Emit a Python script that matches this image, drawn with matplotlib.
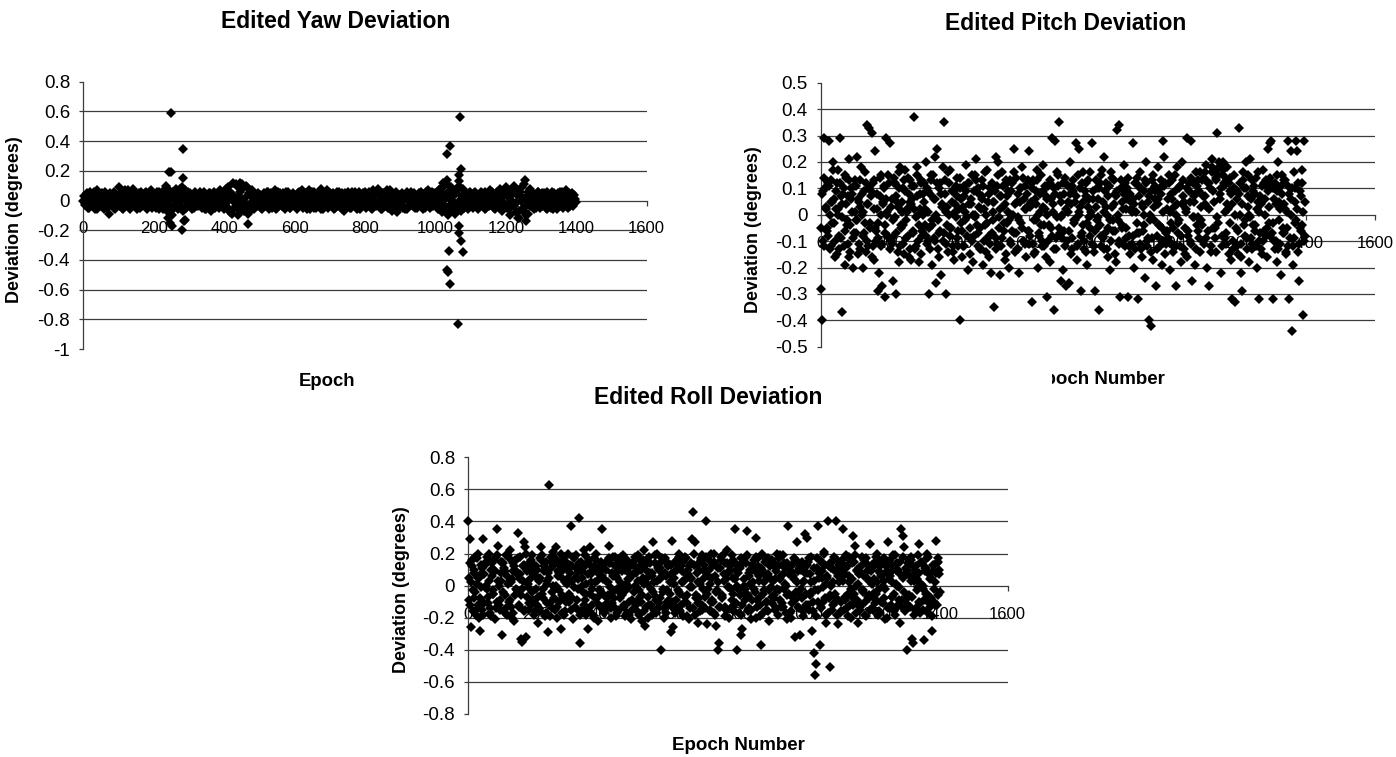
import matplotlib
matplotlib.use("Agg")
import matplotlib.pyplot as plt
from matplotlib.patches import Rectangle

plt.rcParams['font.family'] = ['Liberation Sans', 'DejaVu Sans']

W, H = 1396, 757

# epoch numbers of the points (every 4th epoch, plus two in-between sets)
epochs = list(range(0, 1400, 4))
epochs_mid = list(range(2, 1400, 4))
epochs_b = list(range(1, 1400, 4))

yaw_dev = [
    0.00, -0.03, 0.04, 0.01, -0.05, 0.06, -0.01, 0.03, -0.06, 0.02, 0.07, -0.04, 0.00, 0.05, -0.02, -0.06, 0.03, 0.01, -0.09, 0.05, -0.03, 0.02, -0.05, 0.04, -0.01,
    0.09, -0.04, 0.01, -0.06, 0.05, -0.02, 0.03, 0.07, -0.05, 0.00, 0.08, -0.03, 0.02, -0.06, 0.04, -0.01, 0.06, -0.04, 0.01, 0.05, -0.06, 0.03, -0.02, 0.07, -0.05,
    0.02, -0.04, 0.06, 0.00, -0.06, 0.04, -0.02, 0.07, -0.05, 0.03, -0.08, 0.05, 0.01, -0.10, 0.06, -0.03, 0.08, -0.06, 0.02, -0.04, 0.09, -0.07, 0.03, -0.05, 0.06,
    -0.02, 0.04, -0.06, 0.01, 0.05, -0.04, 0.02, -0.01, 0.06, -0.05, 0.03, 0.00, -0.06, 0.04, -0.02, 0.05, -0.07, 0.02, 0.06, -0.03, 0.01, -0.05, 0.07, -0.02, 0.04,
    -0.06, 0.05, -0.01, 0.09, -0.08, 0.03, 0.12, -0.05, 0.00, 0.10, -0.10, 0.06, -0.03, 0.11, -0.07, 0.02, 0.09, -0.09, 0.04, -0.02, 0.07, -0.06, 0.01, -0.04, 0.05,
    -0.03, 0.02, -0.06, 0.05, 0.00, -0.04, 0.06, -0.02, 0.03, -0.05, 0.01, 0.07, -0.06, 0.04, -0.01, 0.05, -0.04, 0.02, -0.06, 0.06, -0.02, 0.03, -0.05, 0.00, 0.05,
    -0.04, 0.03, -0.06, 0.06, -0.01, 0.04, -0.05, 0.01, 0.05, -0.03, 0.07, -0.06, 0.02, -0.02, 0.06, -0.05, 0.00, 0.04, -0.04, 0.08, -0.06, 0.03, -0.01, 0.07, -0.05,
    0.02, -0.03, 0.05, -0.06, 0.01, 0.06, -0.04, 0.03, -0.01, 0.05, -0.07, 0.02, -0.03, 0.06, 0.00, -0.05, 0.04, -0.02, 0.06, -0.06, 0.01, 0.05, -0.04, 0.03, -0.01,
    0.06, -0.05, 0.02, -0.02, 0.05, -0.06, 0.07, 0.00, -0.04, 0.08, -0.03, 0.03, -0.06, 0.05, -0.01, 0.04, -0.05, 0.02, 0.07, -0.07, 0.01, -0.03, 0.06, -0.08, 0.04,
    -0.02, 0.05, -0.05, 0.01, 0.04, -0.06, 0.02, -0.01, 0.06, -0.04, 0.03, 0.00, -0.05, 0.05, -0.02, 0.04, -0.06, 0.02, 0.06, -0.03, 0.07, -0.05, 0.01, -0.04, 0.05,
    -0.03, 0.06, -0.06, 0.08, 0.01, -0.08, 0.10, -0.04, 0.05, -0.10, 0.02, 0.09, -0.06, 0.04, -0.09, 0.07, -0.02, 0.10, -0.07, 0.03, -0.05, 0.06, -0.01, -0.06, 0.05,
    -0.02, 0.04, -0.05, 0.06, 0.00, -0.06, 0.03, -0.03, 0.05, -0.01, 0.06, -0.05, 0.02, -0.04, 0.07, -0.02, 0.04, -0.06, 0.01, 0.06, -0.04, 0.08, -0.07, 0.03, -0.02,
    0.09, -0.05, 0.02, -0.10, 0.07, -0.02, 0.10, -0.08, 0.04, -0.12, 0.06, 0.00, -0.07, 0.11, -0.04, 0.03, -0.09, 0.08, -0.01, 0.05, -0.06, 0.02, -0.03, 0.06, -0.05,
    0.03, -0.04, 0.05, -0.01, -0.06, 0.04, 0.01, -0.05, 0.06, -0.02, 0.03, -0.06, 0.05, 0.00, -0.04, 0.06, -0.03, 0.02, 0.07, -0.05, 0.04, -0.02, 0.05, -0.04, 0.01,
]
yaw_dev_mid = [
    0.03, -0.02, 0.05, -0.05, 0.01, 0.04, -0.03, 0.06, 0.00, -0.06, 0.02, 0.05, -0.04, 0.03, -0.01, 0.06, -0.05, 0.02, 0.04, -0.03, 0.00, 0.06, -0.06, 0.01, 0.03,
    -0.02, 0.05, -0.05, 0.02, 0.07, -0.03, 0.00, 0.04, -0.06, 0.03, -0.01, 0.06, -0.04, 0.01, 0.05, -0.05, 0.02, 0.03, -0.02, 0.06, 0.00, -0.04, 0.05, -0.01, 0.02,
    0.04, -0.05, 0.01, 0.06, -0.03, 0.02, -0.06, 0.05, 0.00, -0.02, 0.07, -0.04, 0.03, -0.06, 0.01, 0.05, -0.03, 0.04, -0.01, 0.06, -0.05, 0.02, 0.07, -0.03, 0.00,
    0.05, -0.03, 0.02, -0.05, 0.06, 0.00, -0.04, 0.04, -0.02, 0.01, 0.06, -0.06, 0.03, -0.01, 0.05, -0.04, 0.02, 0.00, -0.05, 0.04, -0.02, 0.06, -0.03, 0.01, 0.05,
    -0.03, 0.08, -0.05, 0.02, 0.06, -0.09, 0.04, -0.02, 0.11, -0.06, 0.03, -0.08, 0.08, 0.00, -0.05, 0.10, -0.03, 0.05, -0.07, 0.03, 0.00, 0.05, -0.04, 0.02, -0.02,
    0.04, -0.05, 0.01, 0.03, -0.02, 0.06, -0.06, 0.02, 0.05, -0.03, 0.00, 0.04, -0.05, 0.06, -0.02, 0.01, 0.05, -0.04, 0.03, -0.01, 0.06, -0.05, 0.02, 0.04, -0.03,
    0.01, -0.05, 0.05, -0.02, 0.03, 0.07, -0.04, 0.00, -0.06, 0.04, 0.02, -0.03, 0.06, -0.05, 0.01, 0.03, -0.02, 0.06, -0.06, 0.02, 0.05, -0.04, 0.04, 0.00, -0.03,
    0.05, -0.01, 0.03, -0.05, 0.04, -0.02, 0.06, 0.00, -0.06, 0.02, 0.05, -0.04, 0.01, 0.04, -0.05, 0.06, -0.02, 0.03, -0.04, 0.00, 0.06, -0.06, 0.02, 0.05, -0.03,
    0.02, -0.04, 0.06, 0.01, -0.05, 0.03, -0.03, 0.05, 0.06, -0.02, 0.00, -0.06, 0.04, 0.02, -0.04, 0.07, -0.01, 0.03, -0.05, 0.05, -0.03, 0.01, 0.04, -0.06, 0.02,
    0.04, -0.03, 0.02, -0.06, 0.06, 0.00, -0.04, 0.03, -0.02, 0.05, -0.05, 0.01, 0.04, -0.03, 0.06, -0.01, 0.02, -0.05, 0.03, 0.05, -0.04, 0.00, 0.06, -0.02, 0.01,
    0.03, -0.04, 0.07, -0.02, 0.05, 0.12, -0.05, 0.02, -0.07, 0.06, -0.03, 0.08, 0.00, -0.08, 0.05, -0.04, 0.13, -0.05, 0.01, 0.08, -0.03, 0.04, 0.02, -0.04, 0.06,
    -0.04, 0.02, 0.05, -0.03, 0.04, -0.05, 0.01, 0.06, -0.02, 0.03, -0.06, 0.00, 0.05, -0.03, 0.02, 0.06, -0.05, 0.03, -0.02, 0.04, 0.01, -0.05, 0.05, -0.03, 0.07,
    -0.03, 0.06, -0.06, 0.04, 0.00, -0.04, 0.08, -0.02, 0.05, -0.07, 0.03, 0.09, -0.05, 0.01, -0.10, 0.06, 0.00, -0.04, 0.05, -0.02, 0.03, -0.05, 0.06, 0.00, -0.03,
    0.05, -0.02, 0.02, -0.05, 0.06, 0.00, -0.03, 0.04, -0.06, 0.05, -0.01, 0.03, -0.04, 0.06, 0.02, -0.05, 0.04, -0.02, 0.01, 0.05, -0.04, 0.03, -0.02, 0.04, -0.01,
]
# isolated yaw outliers
yaw_spike_epochs = [236, 240, 244, 246, 248, 250, 252, 276, 280, 282, 284, 286, 290, 446, 468,
                    1030, 1032, 1033, 1034, 1036, 1038, 1040, 1042, 1064, 1066, 1067, 1068, 1070, 1072, 1074, 1077,
                    1235, 1254, 1256]
yaw_spike_values = [0.10, -0.12, 0.19, -0.15, 0.59, 0.19, -0.17, 0.08, -0.20, 0.35, 0.15, -0.14, -0.13, 0.12, -0.16,
                    0.12, 0.31, -0.47, 0.14, -0.48, -0.34, 0.37, -0.56, -0.83, -0.17, 0.17, -0.22, 0.56, 0.21, -0.27, -0.35,
                    -0.12, 0.14, -0.14]

pitch_dev = [
    -0.28, -0.40, 0.29, 0.10, -0.05, 0.12, 0.28, -0.12, 0.05, 0.20, -0.16, 0.02, 0.17, -0.08, 0.29, -0.37, 0.08, -0.19, 0.14, -0.02, 0.21, -0.14, 0.06, -0.20, 0.11,
    -0.07, 0.22, -0.15, 0.03, 0.18, -0.20, 0.09, -0.03, 0.34, -0.12, 0.33, 0.07, 0.31, -0.17, 0.24, -0.06, -0.29, -0.22, 0.15, -0.27, 0.04, -0.31, 0.29, 0.01, -0.09,
    0.27, -0.11, -0.25, 0.14, -0.30, 0.05, -0.18, 0.18, -0.04, 0.10, -0.15, 0.17, 0.02, -0.08, 0.13, -0.17, 0.06, 0.37, -0.13, 0.18, 0.00, -0.18, 0.12, -0.06, 0.08,
    -0.04, 0.20, -0.10, -0.30, 0.08, -0.19, 0.15, 0.22, -0.26, 0.25, -0.07, 0.12, -0.23, 0.18, 0.35, -0.30, 0.03, -0.14, 0.17, -0.05, 0.09, -0.17, 0.01, 0.14, -0.12,
    -0.40, 0.06, -0.16, 0.11, -0.02, 0.19, -0.21, 0.04, -0.09, 0.15, -0.18, 0.00, 0.21, -0.12, 0.08, -0.05, 0.13, -0.19, 0.02, -0.14, 0.17, -0.08, 0.10, -0.22, 0.05,
    -0.35, 0.22, -0.11, 0.20, -0.23, 0.07, 0.16, -0.03, -0.17, 0.12, 0.01, -0.20, 0.09, -0.06, 0.25, -0.14, 0.14, -0.01, -0.22, 0.05, 0.18, -0.10, 0.11, -0.16, 0.03,
    0.24, -0.08, -0.33, 0.13, -0.15, 0.04, 0.17, -0.20, 0.08, -0.04, 0.19, -0.12, 0.02, -0.31, 0.11, -0.18, 0.06, 0.29, -0.36, 0.28, -0.09, 0.15, 0.35, -0.25, 0.00,
    -0.21, 0.12, -0.27, 0.05, -0.26, 0.20, -0.13, 0.09, -0.02, 0.27, -0.17, 0.25, 0.03, -0.29, 0.16, -0.10, 0.07, -0.19, 0.13, -0.05, 0.01, 0.27, -0.14, -0.29, 0.10,
    0.06, -0.36, -0.12, 0.17, 0.22, -0.07, 0.03, -0.16, 0.11, -0.21, 0.14, -0.02, 0.08, -0.18, 0.32, 0.34, -0.31, 0.05, -0.11, 0.19, -0.05, 0.10, -0.31, -0.15, 0.02,
    0.27, -0.20, 0.12, -0.07, -0.32, 0.16, -0.13, 0.04, 0.09, -0.24, 0.20, -0.09, -0.40, -0.42, 0.13, -0.17, 0.06, -0.27, 0.18, -0.04, 0.10, -0.19, 0.28, 0.22, -0.11,
    -0.06, 0.15, -0.21, 0.08, -0.12, 0.03, -0.27, 0.18, -0.03, 0.11, -0.18, 0.20, 0.05, -0.15, 0.29, -0.08, 0.12, 0.28, -0.25, 0.07, -0.19, 0.16, -0.01, 0.09, -0.14,
    0.13, -0.10, 0.04, 0.19, -0.20, -0.27, 0.10, 0.21, -0.05, 0.17, -0.14, 0.31, 0.15, 0.08, -0.22, 0.20, 0.12, -0.09, 0.18, 0.02, 0.14, -0.17, -0.32, 0.10, -0.33,
    0.06, -0.15, 0.33, -0.22, -0.29, 0.16, -0.08, 0.20, 0.03, -0.18, 0.21, -0.11, 0.09, -0.04, 0.14, -0.20, -0.32, 0.07, -0.13, 0.17, -0.06, 0.11, -0.16, 0.25, 0.27,
    0.28, -0.32, -0.10, 0.12, -0.18, 0.20, 0.05, -0.23, 0.15, -0.07, 0.02, -0.14, 0.28, -0.32, 0.24, -0.44, -0.19, 0.10, 0.28, 0.24, -0.25, -0.05, 0.17, -0.38, 0.28,
]
pitch_dev_mid = [
    0.08, -0.10, 0.14, 0.02, -0.06, 0.11, -0.13, 0.05, 0.17, -0.03, 0.09, -0.15, 0.00, 0.12, -0.09, 0.04, -0.12, 0.15, -0.04, 0.07, -0.16, 0.10, 0.01, -0.07, 0.13,
    -0.02, 0.06, -0.11, 0.13, 0.00, -0.08, 0.16, -0.14, 0.04, 0.10, -0.05, -0.16, 0.12, 0.02, -0.10, 0.08, -0.03, 0.14, -0.12, 0.05, 0.11, -0.07, 0.00, 0.15, -0.13,
    0.03, -0.09, 0.12, -0.01, 0.07, -0.14, 0.16, -0.05, 0.01, -0.11, 0.09, -0.02, 0.14, -0.16, 0.05, 0.11, -0.07, 0.02, -0.12, 0.15, -0.04, 0.08, -0.15, 0.00, 0.12,
    -0.08, 0.10, 0.01, -0.13, 0.15, -0.04, 0.06, -0.10, 0.12, -0.02, -0.16, 0.08, 0.03, -0.07, 0.13, -0.11, 0.16, 0.00, -0.05, 0.09, -0.14, 0.04, 0.11, -0.09, 0.02,
    0.14, -0.06, 0.03, -0.12, 0.09, -0.01, 0.12, -0.15, 0.06, 0.00, -0.08, 0.15, -0.04, 0.10, -0.13, 0.02, 0.07, -0.10, 0.16, -0.03, 0.05, -0.16, 0.11, -0.07, 0.01,
    0.09, -0.13, 0.15, -0.05, 0.02, -0.09, 0.11, 0.04, -0.15, 0.07, -0.02, 0.13, -0.11, 0.00, 0.16, -0.07, 0.05, -0.13, 0.10, -0.03, 0.14, -0.10, 0.02, 0.08, -0.06,
    -0.11, 0.05, 0.12, -0.02, -0.14, 0.09, 0.00, -0.07, 0.15, -0.10, 0.03, 0.11, -0.16, 0.06, -0.04, 0.13, -0.08, 0.01, 0.10, -0.13, 0.16, -0.05, 0.07, -0.01, 0.12,
    -0.06, 0.14, -0.10, 0.01, 0.08, -0.15, 0.11, -0.03, 0.05, -0.12, 0.15, 0.00, -0.08, 0.12, -0.04, 0.09, -0.14, 0.03, -0.01, 0.16, -0.11, 0.06, -0.06, 0.13, -0.02,
    0.10, -0.04, 0.15, -0.09, 0.01, 0.12, -0.13, 0.07, -0.02, 0.16, -0.06, 0.04, -0.15, 0.09, 0.00, -0.10, 0.13, -0.05, 0.08, -0.12, 0.02, 0.14, -0.08, 0.05, -0.11,
    0.06, -0.13, 0.01, 0.14, -0.07, 0.10, -0.16, 0.03, -0.04, 0.12, -0.10, 0.07, 0.00, -0.14, 0.15, -0.02, 0.09, -0.08, 0.04, -0.12, 0.13, -0.05, 0.11, -0.15, 0.02,
    -0.09, 0.12, -0.03, 0.06, -0.14, 0.15, 0.00, -0.07, 0.10, -0.12, 0.04, 0.13, -0.05, 0.01, -0.16, 0.09, -0.10, 0.14, -0.01, 0.05, -0.13, 0.11, -0.06, 0.16, -0.02,
    0.07, -0.11, 0.16, 0.03, -0.06, 0.12, -0.14, 0.18, 0.05, -0.09, 0.14, -0.03, 0.20, 0.10, -0.12, 0.17, 0.01, -0.07, 0.13, -0.15, 0.09, 0.04, -0.10, 0.15, -0.05,
    -0.12, 0.08, 0.00, -0.16, 0.13, -0.04, 0.10, -0.09, 0.15, -0.01, 0.06, -0.13, 0.11, -0.06, 0.02, 0.16, -0.10, 0.04, -0.15, 0.12, 0.00, -0.08, 0.09, -0.03, 0.14,
    -0.07, 0.10, -0.13, 0.04, 0.15, -0.02, -0.11, 0.08, -0.05, 0.13, -0.15, 0.01, 0.11, -0.09, 0.06, -0.12, 0.16, -0.03, 0.02, -0.14, 0.09, -0.06, 0.12, -0.10, 0.05,
]
pitch_dev_b = [
    -0.05, 0.09, -0.12, 0.03, 0.11, -0.08, 0.00, 0.13, -0.03, 0.06, -0.10, 0.12, 0.02, -0.13, 0.07, -0.01, 0.10, -0.06, 0.04, -0.11, 0.13, -0.04, 0.08, -0.09, 0.01,
    0.11, -0.02, 0.05, -0.13, 0.08, 0.01, -0.07, 0.12, -0.10, 0.04, -0.03, 0.09, -0.12, 0.13, -0.05, 0.02, -0.09, 0.07, 0.00, -0.11, 0.10, -0.04, 0.06, -0.08, 0.12,
    -0.10, 0.06, -0.02, 0.12, -0.07, 0.03, 0.10, -0.12, 0.05, -0.04, 0.13, -0.09, 0.01, 0.08, -0.13, 0.04, -0.06, 0.11, -0.01, 0.07, -0.10, 0.02, 0.13, -0.08, 0.05,
    0.02, -0.11, 0.09, -0.05, 0.13, -0.02, -0.09, 0.06, 0.00, -0.13, 0.10, -0.06, 0.04, -0.10, 0.08, 0.01, -0.04, 0.12, -0.08, 0.05, -0.12, 0.09, -0.01, 0.07, -0.06,
    0.10, -0.03, -0.12, 0.07, 0.01, -0.08, 0.12, -0.05, 0.04, -0.10, 0.09, -0.01, 0.13, -0.07, 0.03, -0.13, 0.06, 0.11, -0.04, 0.00, -0.09, 0.08, -0.11, 0.12, -0.02,
    0.05, -0.09, 0.11, -0.01, 0.07, -0.12, 0.03, -0.06, 0.13, -0.03, 0.09, -0.10, 0.00, 0.12, -0.07, 0.04, -0.13, 0.08, -0.02, 0.10, -0.05, 0.06, -0.11, 0.02, 0.13,
    -0.06, 0.03, 0.10, -0.11, 0.06, -0.02, 0.13, -0.08, 0.01, -0.12, 0.09, -0.04, 0.07, 0.00, -0.10, 0.12, -0.05, 0.04, -0.13, 0.08, -0.01, 0.11, -0.07, 0.05, -0.09,
    0.08, -0.12, 0.02, 0.11, -0.06, 0.04, -0.09, 0.13, -0.02, 0.07, -0.11, 0.01, 0.10, -0.07, 0.05, -0.13, 0.12, -0.03, 0.06, -0.08, 0.00, 0.09, -0.12, 0.03, -0.05,
    -0.01, 0.12, -0.08, 0.05, -0.13, 0.09, 0.00, -0.05, 0.11, -0.10, 0.03, 0.13, -0.06, 0.07, -0.02, -0.11, 0.10, -0.04, 0.02, 0.12, -0.09, 0.06, -0.12, 0.08, 0.01,
    -0.08, 0.04, 0.12, -0.03, 0.07, -0.11, 0.10, -0.06, 0.00, 0.13, -0.12, 0.05, -0.02, 0.09, -0.09, 0.03, 0.11, -0.13, 0.06, -0.04, 0.08, -0.10, 0.01, 0.12, -0.07,
    0.06, -0.10, 0.01, 0.13, -0.05, 0.09, -0.12, 0.04, -0.02, 0.11, -0.08, 0.07, -0.13, 0.02, 0.10, -0.06, 0.05, -0.11, 0.12, -0.01, 0.08, -0.04, 0.13, -0.09, 0.03,
    -0.04, 0.14, 0.07, -0.09, 0.12, 0.02, -0.12, 0.16, 0.09, -0.05, 0.13, -0.01, 0.18, 0.06, -0.08, 0.15, 0.11, -0.11, 0.04, 0.12, -0.03, 0.08, -0.13, 0.10, 0.00,
    0.09, -0.06, 0.12, -0.11, 0.04, 0.10, -0.02, -0.13, 0.07, 0.00, -0.09, 0.13, -0.04, 0.08, -0.12, 0.05, 0.01, -0.07, 0.11, -0.10, 0.06, 0.13, -0.05, 0.03, -0.08,
    0.12, -0.03, 0.06, -0.10, 0.09, -0.13, 0.02, 0.11, -0.07, 0.04, 0.13, -0.05, -0.12, 0.08, 0.00, 0.10, -0.09, 0.05, -0.02, 0.12, -0.11, 0.07, -0.04, 0.01, -0.08,
]

roll_dev = [
    0.40, 0.29, -0.26, 0.12, -0.08, 0.18, -0.15, 0.05, -0.20, -0.28, 0.08, 0.29, -0.11, 0.15, -0.02, 0.20, -0.17, 0.10, -0.05, 0.16, -0.21, 0.35, 0.25, -0.12, 0.03,
    -0.31, 0.14, -0.06, 0.19, -0.18, 0.02, 0.22, -0.13, 0.09, -0.22, 0.16, -0.03, 0.33, 0.07, -0.33, -0.35, 0.27, 0.24, -0.32, 0.11, -0.15, 0.04, 0.19, -0.09, 0.13,
    0.06, -0.12, -0.23, 0.17, 0.24, -0.05, 0.10, -0.19, 0.01, -0.29, 0.63, 0.15, -0.14, 0.21, -0.02, 0.24, -0.20, 0.08, 0.13, -0.27, -0.07, 0.18, -0.16, 0.04, 0.20,
    -0.10, 0.37, 0.12, -0.21, 0.05, 0.19, -0.15, 0.42, -0.36, 0.09, -0.04, 0.22, -0.18, 0.14, -0.27, 0.24, 0.02, -0.12, 0.17, -0.08, 0.20, -0.22, 0.07, -0.03, 0.35,
    0.11, -0.17, 0.03, -0.08, 0.25, 0.14, -0.20, 0.06, -0.13, 0.18, -0.02, 0.09, -0.15, 0.18, -0.06, 0.12, -0.19, 0.01, 0.16, -0.10, 0.05, -0.21, 0.13, -0.04, 0.08,
    -0.16, 0.19, -0.07, 0.10, -0.22, 0.22, -0.25, 0.04, 0.15, -0.12, 0.08, -0.18, 0.27, 0.02, -0.09, 0.20, -0.14, 0.11, -0.40, 0.06, -0.20, 0.17, -0.03, 0.13, -0.11,
    -0.29, 0.28, -0.26, 0.09, -0.14, 0.16, 0.20, -0.05, 0.12, -0.19, 0.03, 0.18, -0.11, 0.07, -0.21, 0.14, 0.29, 0.46, 0.27, -0.08, -0.23, 0.10, -0.16, 0.19, -0.02,
    0.13, 0.40, -0.24, 0.06, -0.15, 0.20, -0.09, 0.15, -0.18, -0.25, -0.40, -0.36, 0.11, -0.06, 0.19, -0.13, 0.04, 0.22, -0.20, 0.09, -0.02, 0.16, -0.12, 0.35, -0.40,
    0.08, -0.17, -0.31, -0.27, 0.14, -0.05, 0.18, 0.34, -0.14, 0.10, -0.21, 0.02, 0.16, 0.30, -0.09, 0.12, -0.19, -0.37, 0.20, -0.03, 0.07, -0.15, 0.17, -0.22, 0.05,
    -0.11, 0.15, -0.06, 0.09, 0.20, -0.18, 0.04, -0.13, 0.19, -0.02, 0.11, -0.21, 0.37, 0.07, -0.16, 0.13, -0.08, -0.32, 0.16, 0.27, -0.05, -0.31, 0.10, -0.19, 0.03,
    0.32, 0.30, -0.12, 0.17, -0.04, -0.28, -0.42, -0.56, -0.49, 0.37, 0.08, -0.37, 0.14, -0.10, 0.21, -0.23, 0.05, 0.40, -0.51, 0.11, -0.15, 0.18, -0.07, 0.40, -0.24,
    0.13, -0.17, 0.06, 0.35, -0.09, 0.19, -0.14, 0.02, 0.16, -0.20, 0.31, -0.05, 0.25, 0.10, -0.23, 0.07, -0.12, 0.18, -0.03, 0.14, -0.19, 0.09, -0.08, 0.26, 0.01,
    -0.15, 0.12, -0.05, 0.20, -0.18, 0.08, -0.10, 0.16, 0.03, -0.21, 0.13, 0.27, -0.13, 0.06, -0.07, 0.19, -0.16, 0.10, 0.00, -0.12, -0.23, 0.35, 0.31, 0.24, -0.09,
    -0.40, 0.14, -0.06, 0.18, -0.33, -0.36, 0.09, -0.14, 0.04, 0.26, -0.11, 0.15, -0.02, -0.34, 0.11, 0.20, -0.17, 0.07, -0.08, -0.28, 0.13, -0.12, 0.28, 0.17, 0.10,
]
roll_dev_mid = [
    0.05, -0.12, 0.16, -0.03, 0.10, -0.18, 0.01, 0.20, -0.08, 0.13, -0.15, 0.07, -0.01, 0.18, -0.11, 0.03, -0.19, 0.14, -0.05, 0.09, -0.14, 0.19, 0.00, -0.09, 0.15,
    -0.04, 0.11, -0.17, 0.06, 0.19, -0.10, 0.02, -0.20, 0.14, -0.06, 0.09, 0.17, -0.13, 0.04, -0.02, 0.12, -0.16, 0.20, -0.07, 0.01, 0.15, -0.12, 0.08, -0.18, 0.06,
    0.12, -0.07, 0.03, -0.16, 0.19, -0.02, 0.09, 0.15, -0.11, 0.05, -0.19, 0.11, 0.00, -0.08, 0.17, -0.13, 0.06, -0.03, 0.20, -0.17, 0.10, 0.02, -0.10, 0.14, -0.05,
    0.08, -0.15, 0.18, -0.01, 0.11, -0.09, 0.04, -0.18, 0.15, 0.00, -0.12, 0.19, -0.05, 0.07, -0.16, 0.13, -0.02, 0.10, -0.20, 0.16, 0.03, -0.07, 0.12, -0.14, 0.06,
    -0.06, 0.14, -0.11, 0.02, 0.17, -0.14, 0.08, -0.04, 0.12, -0.19, 0.05, 0.15, -0.08, 0.00, 0.19, -0.12, 0.10, -0.17, 0.04, -0.01, 0.13, -0.15, 0.07, 0.18, -0.10,
    0.03, -0.18, 0.12, -0.06, 0.16, 0.01, -0.13, 0.09, -0.20, 0.14, -0.02, 0.06, -0.15, 0.19, -0.07, 0.11, -0.11, 0.04, 0.17, -0.04, 0.08, -0.17, 0.15, -0.09, 0.02,
    0.13, -0.10, 0.05, -0.17, 0.10, -0.03, 0.18, -0.12, 0.02, 0.15, -0.07, 0.07, -0.19, 0.12, -0.01, 0.04, -0.14, 0.20, -0.06, 0.13, -0.11, 0.01, 0.17, -0.15, 0.09,
    -0.07, 0.18, -0.02, 0.10, -0.16, 0.05, -0.10, 0.20, -0.04, 0.12, 0.02, -0.13, 0.16, -0.08, 0.07, -0.19, 0.14, -0.01, 0.09, -0.14, 0.19, -0.05, 0.04, -0.11, 0.13,
    -0.03, 0.11, -0.18, 0.15, 0.00, -0.09, 0.19, -0.06, 0.06, -0.15, 0.13, -0.02, 0.09, -0.20, 0.17, 0.03, -0.12, 0.10, -0.05, 0.18, -0.10, 0.05, -0.16, 0.12, -0.01,
    0.16, -0.08, 0.04, -0.14, 0.12, -0.03, 0.19, -0.11, 0.07, 0.01, -0.17, 0.14, -0.05, 0.10, -0.20, 0.06, 0.17, -0.09, 0.02, -0.13, 0.11, -0.02, 0.15, -0.16, 0.08,
    -0.05, 0.13, -0.15, 0.07, 0.18, -0.10, 0.03, -0.19, 0.11, -0.03, 0.16, -0.13, 0.05, 0.20, -0.08, 0.01, -0.17, 0.12, -0.06, 0.15, 0.02, -0.11, 0.09, -0.18, 0.06,
    0.10, -0.16, 0.03, 0.17, -0.07, 0.12, -0.19, 0.06, -0.02, 0.14, -0.12, 0.19, 0.00, -0.09, 0.11, -0.15, 0.08, -0.04, 0.16, -0.18, 0.05, 0.13, -0.06, 0.09, -0.14,
    0.04, -0.11, 0.18, -0.03, 0.09, -0.17, 0.14, 0.00, -0.08, 0.12, -0.20, 0.07, 0.16, -0.12, 0.02, -0.05, 0.19, -0.14, 0.10, -0.01, 0.15, -0.09, 0.05, -0.16, 0.11,
    -0.08, 0.16, -0.13, 0.03, 0.12, -0.18, 0.07, -0.03, 0.19, -0.10, 0.01, 0.14, -0.15, 0.09, -0.05, 0.17, -0.11, 0.04, -0.19, 0.13, -0.02, 0.08, -0.12, 0.15, -0.04,
]
roll_dev_b = [
    -0.09, 0.14, 0.02, -0.16, 0.08, -0.04, 0.17, -0.12, 0.05, -0.01, 0.11, -0.18, 0.13, 0.00, -0.07, 0.16, -0.14, 0.06, -0.03, 0.10, 0.18, -0.10, 0.03, -0.15, 0.08,
    0.15, -0.05, 0.09, -0.14, 0.01, 0.17, -0.09, 0.04, -0.17, 0.12, -0.02, 0.07, -0.12, 0.18, -0.06, 0.03, 0.13, -0.15, 0.09, -0.01, -0.11, 0.16, -0.04, 0.10, -0.16,
    -0.02, 0.10, -0.14, 0.05, 0.16, -0.08, 0.12, -0.17, 0.03, 0.08, -0.11, 0.18, -0.04, 0.13, -0.15, 0.00, 0.09, -0.10, 0.15, -0.06, 0.04, -0.18, 0.11, 0.01, -0.09,
    0.13, -0.07, 0.03, 0.17, -0.13, 0.08, -0.02, 0.14, -0.16, 0.05, 0.11, -0.09, 0.01, -0.14, 0.16, -0.05, 0.07, -0.18, 0.12, 0.02, -0.11, 0.09, -0.03, 0.15, -0.13,
    0.04, -0.15, 0.10, -0.06, 0.14, -0.01, -0.11, 0.18, -0.08, 0.06, -0.17, 0.12, 0.02, -0.05, 0.09, -0.13, 0.16, -0.03, 0.11, -0.18, 0.07, -0.09, 0.15, 0.00, -0.12,
    0.11, -0.03, 0.16, -0.10, 0.05, -0.16, 0.13, 0.01, -0.07, 0.18, -0.12, 0.08, -0.04, 0.14, -0.17, 0.03, 0.10, -0.08, 0.15, -0.02, -0.14, 0.06, -0.10, 0.12, -0.05,
    0.07, -0.13, 0.01, 0.15, -0.09, 0.11, -0.04, -0.16, 0.09, 0.03, -0.11, 0.17, -0.06, 0.10, -0.14, 0.05, -0.01, 0.13, -0.18, 0.08, 0.02, -0.08, 0.16, -0.12, 0.04,
    -0.14, 0.09, -0.05, 0.16, 0.01, -0.10, 0.13, -0.17, 0.06, -0.03, 0.11, -0.13, 0.18, -0.07, 0.03, 0.14, -0.15, 0.08, -0.01, 0.12, -0.09, 0.05, -0.16, 0.10, 0.00,
    0.12, -0.06, 0.17, -0.12, 0.04, -0.02, 0.14, -0.16, 0.08, 0.01, -0.09, 0.13, -0.04, 0.18, -0.13, 0.06, -0.07, 0.11, -0.17, 0.02, 0.15, -0.10, 0.07, -0.03, 0.16,
    -0.07, 0.03, -0.15, 0.11, -0.02, 0.17, -0.09, 0.06, -0.13, 0.14, 0.00, -0.06, 0.12, -0.17, 0.08, -0.11, 0.04, 0.16, -0.04, 0.09, -0.14, 0.13, -0.08, 0.02, 0.11,
    -0.12, 0.08, 0.15, -0.06, 0.02, -0.16, 0.11, -0.03, 0.17, -0.10, 0.05, -0.14, 0.09, -0.01, 0.13, -0.18, 0.06, -0.08, 0.14, 0.00, -0.12, 0.10, -0.05, 0.16, -0.09,
    0.02, -0.10, 0.14, -0.15, 0.07, 0.11, -0.05, 0.18, -0.12, 0.04, -0.08, 0.15, -0.17, 0.09, 0.01, -0.13, 0.12, -0.03, 0.06, -0.10, 0.17, -0.07, 0.03, -0.15, 0.13,
    -0.05, 0.15, -0.09, 0.02, -0.16, 0.12, 0.06, -0.11, 0.17, -0.02, 0.09, -0.14, 0.04, 0.13, -0.07, 0.10, -0.18, 0.01, 0.14, -0.09, 0.07, -0.13, 0.18, -0.04, 0.08,
    0.10, -0.12, 0.06, 0.16, -0.07, 0.03, -0.15, 0.12, -0.01, 0.08, -0.17, 0.14, 0.00, -0.09, 0.11, -0.05, 0.18, -0.13, 0.05, 0.09, -0.10, 0.02, 0.14, -0.06, 0.07,
]

x_ticks = [0, 200, 400, 600, 800, 1000, 1200, 1400, 1600]
yaw_ticks = [-1, -0.8, -0.6, -0.4, -0.2, 0, 0.2, 0.4, 0.6, 0.8]
pitch_ticks = [-0.5, -0.4, -0.3, -0.2, -0.1, 0, 0.1, 0.2, 0.3, 0.4, 0.5]
roll_ticks = [-0.8, -0.6, -0.4, -0.2, 0, 0.2, 0.4, 0.6, 0.8]

AX_COLOR = '#3c3c3c'


def px_axes(fig, left, top, right, bottom, z=1):
    # place an axes using pixel edges of the picture
    return fig.add_axes([left / W, 1 - bottom / H, (right - left) / W, (bottom - top) / H], zorder=z)


def scatter_chart(ax, series, yticks):
    ax.set_facecolor('none')
    for xs, ys in series:
        ax.plot(xs, ys, 'D', color='black', markersize=5.6, markeredgewidth=0, zorder=3, clip_on=False)
    ax.set_xlim(0, 1600)
    ax.set_ylim(yticks[0], yticks[-1])
    for t in yticks[1:-1]:
        if t != 0:
            ax.axhline(t, color=AX_COLOR, lw=0.9, zorder=1)
    ax.set_yticks(yticks)
    ax.set_yticklabels([f"{t:g}" for t in yticks])
    ax.set_xticks(x_ticks)
    ax.set_xticklabels([str(t) for t in x_ticks])
    for s in ('top', 'right'):
        ax.spines[s].set_visible(False)
    ax.spines['bottom'].set_position(('data', 0))
    for s in ('left', 'bottom'):
        ax.spines[s].set_color(AX_COLOR)
        ax.spines[s].set_linewidth(0.9)
    ax.tick_params(axis='y', direction='out', length=3, width=0.9, color=AX_COLOR, labelsize=13.5, pad=6.5)
    ax.tick_params(axis='x', direction='out', length=3.6, width=0.9, color=AX_COLOR, labelsize=12, pad=11.5)


def label(fig, x, y, s, size, rot=0, z=3):
    fig.text(x / W, 1 - y / H, s, ha='center', va='center', fontsize=size,
             fontweight='bold', rotation=rot, zorder=z)


fig = plt.figure(figsize=(W / 100, H / 100), dpi=100)

# Yaw
ax1 = px_axes(fig, 83.3, 81.7, 646.7, 349)
scatter_chart(ax1, [(epochs, yaw_dev), (epochs_mid, yaw_dev_mid), (yaw_spike_epochs, yaw_spike_values)], yaw_ticks)
label(fig, 336, 21, 'Edited Yaw Deviation', 16.5)
label(fig, 15, 220, 'Deviation (degrees)', 13, rot=90)
label(fig, 327, 382, 'Epoch', 13.3)

# Pitch
ax2 = px_axes(fig, 821, 82.7, 1375, 346.7)
scatter_chart(ax2, [(epochs, pitch_dev), (epochs_mid, pitch_dev_mid), (epochs_b, pitch_dev_b)], pitch_ticks)
label(fig, 1066, 23, 'Edited Pitch Deviation', 16.5)
label(fig, 754, 230, 'Deviation (degrees)', 13, rot=90)
label(fig, 1098, 380, 'Epoch Number', 13.5, z=1)

# the roll chart sits on top and hides the start of the pitch axis title
fig.patches.append(Rectangle((370 / W, 0), (1052 - 370) / W, 1 - 365 / H,
                             transform=fig.transFigure, facecolor='white', edgecolor='none', zorder=2))

# Roll
ax3 = px_axes(fig, 468.3, 457.3, 1007.7, 714, z=3)
scatter_chart(ax3, [(epochs, roll_dev), (epochs_mid, roll_dev_mid), (epochs_b, roll_dev_b)], roll_ticks)
label(fig, 708, 398, 'Edited Roll Deviation', 16.5, z=4)
label(fig, 402, 590, 'Deviation (degrees)', 13, rot=90, z=4)
label(fig, 738, 745, 'Epoch Number', 13.5, z=4)

fig.savefig('out.png', dpi=100)
